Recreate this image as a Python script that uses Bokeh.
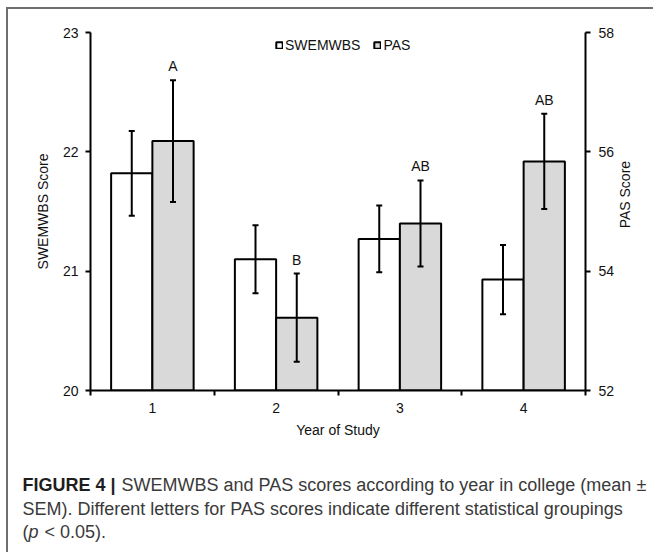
from bokeh.plotting import figure
from bokeh.layouts import column, row
from bokeh.models import (Range1d, LinearAxis, FixedTicker, Legend, LegendItem,
                          ColumnDataSource, Whisker, TeeHead)
from bokeh.core.properties import value
from bokeh.embed import file_html
from bokeh.resources import INLINE
import math

# ---- data ----
years = [1, 2, 3, 4]
year_labels = ["1", "2", "3", "4"]
swemwbs_mean = [21.82, 21.10, 21.27, 20.93]
swemwbs_sem = [0.355, 0.285, 0.28, 0.29]
pas_mean = [56.18, 53.22, 54.80, 55.84]
pas_sem = [1.02, 0.74, 0.72, 0.80]
pas_groups = ["A", "B", "AB", "AB"]
swem_ticks = [20, 21, 22, 23]
pas_ticks = [52, 54, 56, 58]

caption_text = ["FIGURE 4 |",
                "SWEMWBS and PAS scores according to year in college (mean \u00b1",
                "SEM). Different letters for PAS scores indicate different statistical groupings",
                "(", "p", "< 0.05)."]
caption_style = ["bold", "normal", "normal", "normal", "italic", "normal"]
caption_color = ["#1e1e1e", "#3a3a3a", "#3a3a3a", "#3a3a3a", "#3a3a3a", "#3a3a3a"]
# caption layout (pixel positions in caption panel)
cap_x = [14, 113, 14, 14, 20, 36]
cap_y = [29, 29, 53, 76, 76, 76]

FONT = "Liberation Sans"
TOTAL_W = 645
WC, HC = 610, 446          # chart panel
WR = TOTAL_W - WC          # right-label panel
HCAP = 97                  # caption panel

src = ColumnDataSource(dict(
    sx=[x - 1 / 6 for x in years],
    px=[x + 1 / 6 for x in years],
    s=swemwbs_mean,
    s_lo=[m - e for m, e in zip(swemwbs_mean, swemwbs_sem)],
    s_hi=[m + e for m, e in zip(swemwbs_mean, swemwbs_sem)],
    pa=pas_mean,
    p_lo=[m - e for m, e in zip(pas_mean, pas_sem)],
    p_hi=[m + e for m, e in zip(pas_mean, pas_sem)],
    grp=pas_groups,
))

p = figure(width=WC, height=HC, output_backend="svg", toolbar_location=None, title=None,
           x_range=Range1d(0.5, 4.5), y_range=Range1d(swem_ticks[0], swem_ticks[-1]),
           min_border_left=82, min_border_right=WC - 577, min_border_top=23,
           min_border_bottom=HC - 381)
p.extra_y_ranges = {"pas": Range1d(pas_ticks[0], pas_ticks[-1])}
p.xgrid.visible = False
p.ygrid.visible = False
p.outline_line_color = None
p.background_fill_color = "white"
p.border_fill_color = "white"

r1 = p.vbar(x="sx", top="s", bottom=swem_ticks[0], width=1 / 3, source=src,
            fill_color="white", line_color="black", line_width=2)
r2 = p.vbar(x="px", top="pa", bottom=pas_ticks[0], width=1 / 3, source=src,
            fill_color="#d9d9d9", line_color="black", line_width=2, y_range_name="pas")

w1 = Whisker(source=src, base="sx", lower="s_lo", upper="s_hi", line_width=2,
             line_color="black", level="annotation",
             upper_head=TeeHead(size=6, line_width=2), lower_head=TeeHead(size=6, line_width=2))
w2 = Whisker(source=src, base="px", lower="p_lo", upper="p_hi", line_width=2,
             line_color="black", level="annotation", y_range_name="pas",
             upper_head=TeeHead(size=6, line_width=2), lower_head=TeeHead(size=6, line_width=2))
p.add_layout(w1)
p.add_layout(w2)

p.text(x="px", y="p_hi", text="grp", source=src, y_range_name="pas", y_offset=-14,
       text_align="center", text_baseline="middle", text_font=value(FONT),
       text_font_size="14px", text_color="#111111")

def style_axis(ax):
    ax.axis_line_width = 2
    ax.axis_line_color = "black"
    ax.major_tick_line_width = 2
    ax.major_tick_line_color = "black"
    ax.major_tick_in = 0
    ax.major_tick_out = 5
    ax.minor_tick_line_color = None
    ax.major_label_text_font = FONT
    ax.major_label_text_font_size = "14px"
    ax.major_label_text_color = "#111111"
    ax.axis_label_text_font = FONT
    ax.axis_label_text_font_size = "14px"
    ax.axis_label_text_font_style = "normal"
    ax.axis_label_text_color = "#111111"

yl = p.yaxis[0]
yl.ticker = FixedTicker(ticks=swem_ticks)
yl.axis_label = "SWEMWBS Score"
style_axis(yl)
yl.major_label_standoff = 7
yl.axis_label_standoff = 9

yr = LinearAxis(y_range_name="pas", ticker=FixedTicker(ticks=pas_ticks))
style_axis(yr)
yr.major_label_standoff = 8
p.add_layout(yr, "right")

xa = p.xaxis[0]
xa.ticker = FixedTicker(ticks=years, minor_ticks=[y - 0.5 for y in years] + [years[-1] + 0.5])
xa.major_label_overrides = {y: l for y, l in zip(years, year_labels)}
xa.axis_label = "Year of Study"
style_axis(xa)
xa.major_tick_line_color = None
xa.major_tick_out = 0
xa.minor_tick_line_color = "black"
xa.minor_tick_line_width = 2
xa.minor_tick_in = 0
xa.minor_tick_out = 5
xa.major_label_standoff = 7
xa.axis_label_standoff = 6

legend = Legend(items=[LegendItem(label="SWEMWBS", renderers=[r1]),
                       LegendItem(label="PAS", renderers=[r2])],
                orientation="horizontal", location=(185, 337),
                glyph_width=8, glyph_height=8, label_height=8, label_standoff=2,
                spacing=13, padding=0, margin=0, border_line_color=None,
                background_fill_alpha=0, label_text_font=FONT,
                label_text_font_size="14px", label_text_color="#111111")
p.add_layout(legend)

# ---- right axis title panel (reads bottom-to-top) ----
rl = figure(width=WR, height=HC, output_backend="svg", toolbar_location=None, title=None,
            x_range=Range1d(0, WR), y_range=Range1d(HC, 0),
            x_axis_location=None, y_axis_location=None, min_border=0)
rl.xgrid.visible = False
rl.ygrid.visible = False
rl.outline_line_color = None
rl.text(x=[6], y=[(23 + 381) / 2], text=["PAS Score"], angle=math.pi / 2,
        text_align="center", text_baseline="middle", text_font=value(FONT),
        text_font_size="14px", text_color="#111111")

# ---- caption panel ----
cp = figure(width=TOTAL_W, height=HCAP, output_backend="svg", toolbar_location=None,
            title=None, x_range=Range1d(0, TOTAL_W), y_range=Range1d(HCAP, 0),
            x_axis_location=None, y_axis_location=None, min_border=0)
cp.xgrid.visible = False
cp.ygrid.visible = False
cp.outline_line_color = None
cap_src = ColumnDataSource(dict(x=cap_x, y=cap_y, t=caption_text, st=caption_style,
                                c=caption_color))
cp.text(x="x", y="y", text="t", source=cap_src, text_font_style="st", text_color="c",
        text_align="left", text_baseline="middle", text_font=value(FONT),
        text_font_size="18px")

layout = column(row(p, rl, spacing=0), cp, spacing=0, margin=(7, 0, 0, 6),
                styles={"border-left": "2px solid #6e6e6e", "border-top": "2px solid #6e6e6e"})

open("out.html", "w").write(file_html(layout, INLINE))
